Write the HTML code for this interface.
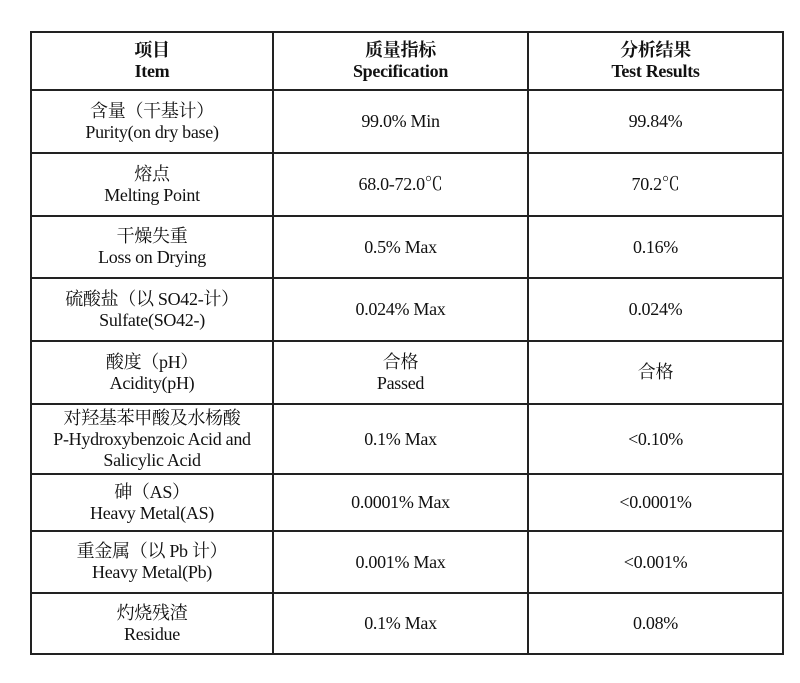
<!DOCTYPE html>
<html><head><meta charset="utf-8"><style>
body{margin:0;width:800px;height:683px;background:#fff;position:relative;overflow:hidden;font-family:"Liberation Serif","Noto Serif CJK SC",serif;color:#111;font-size:18px}
.h{position:absolute;height:2px;background:#222;left:30px;width:754px}
.v{position:absolute;width:2px;background:#222;top:31px;height:624px}
.c{position:absolute;display:flex;flex-direction:column;justify-content:center;align-items:center;text-align:center;line-height:21px;letter-spacing:-0.3px}
b{font-weight:bold}
</style></head><body>
<div class="h" style="top:31px"></div>
<div class="h" style="top:89px"></div>
<div class="h" style="top:152px"></div>
<div class="h" style="top:215px"></div>
<div class="h" style="top:277px"></div>
<div class="h" style="top:340px"></div>
<div class="h" style="top:403px"></div>
<div class="h" style="top:473px"></div>
<div class="h" style="top:530px"></div>
<div class="h" style="top:592px"></div>
<div class="h" style="top:653px"></div>
<div class="v" style="left:30px"></div>
<div class="v" style="left:272px"></div>
<div class="v" style="left:527px"></div>
<div class="v" style="left:782px"></div>

<div class="c" style="left:32px;width:240px;top:33px;height:56px"><b>项目</b><b>Item</b></div>
<div class="c" style="left:274px;width:253px;top:33px;height:56px"><b>质量指标</b><b>Specification</b></div>
<div class="c" style="left:529px;width:253px;top:33px;height:56px"><b>分析结果</b><b>Test Results</b></div>

<div class="c" style="left:32px;width:240px;top:91px;height:61px"><span>含量（干基计）</span><span>Purity(on dry base)</span></div>
<div class="c" style="left:274px;width:253px;top:91px;height:61px">99.0% Min</div>
<div class="c" style="left:529px;width:253px;top:91px;height:61px">99.84%</div>

<div class="c" style="left:32px;width:240px;top:154px;height:61px"><span>熔点</span><span>Melting Point</span></div>
<div class="c" style="left:274px;width:253px;top:154px;height:61px">68.0-72.0℃</div>
<div class="c" style="left:529px;width:253px;top:154px;height:61px">70.2℃</div>

<div class="c" style="left:32px;width:240px;top:217px;height:60px"><span>干燥失重</span><span>Loss on Drying</span></div>
<div class="c" style="left:274px;width:253px;top:217px;height:60px">0.5% Max</div>
<div class="c" style="left:529px;width:253px;top:217px;height:60px">0.16%</div>

<div class="c" style="left:32px;width:240px;top:279px;height:61px"><span>硫酸盐（以 SO42-计）</span><span>Sulfate(SO42-)</span></div>
<div class="c" style="left:274px;width:253px;top:279px;height:61px">0.024% Max</div>
<div class="c" style="left:529px;width:253px;top:279px;height:61px">0.024%</div>

<div class="c" style="left:32px;width:240px;top:342px;height:61px"><span>酸度（pH）</span><span>Acidity(pH)</span></div>
<div class="c" style="left:274px;width:253px;top:342px;height:61px"><span>合格</span><span>Passed</span></div>
<div class="c" style="left:529px;width:253px;top:342px;height:61px">合格</div>

<div class="c" style="left:32px;width:240px;top:405px;height:68px"><span>对羟基苯甲酸及水杨酸</span><span>P-Hydroxybenzoic Acid and</span><span>Salicylic Acid</span></div>
<div class="c" style="left:274px;width:253px;top:405px;height:68px">0.1% Max</div>
<div class="c" style="left:529px;width:253px;top:405px;height:68px">&lt;0.10%</div>

<div class="c" style="left:32px;width:240px;top:475px;height:55px"><span>砷（AS）</span><span>Heavy Metal(AS)</span></div>
<div class="c" style="left:274px;width:253px;top:475px;height:55px">0.0001% Max</div>
<div class="c" style="left:529px;width:253px;top:475px;height:55px">&lt;0.0001%</div>

<div class="c" style="left:32px;width:240px;top:532px;height:60px"><span>重金属（以 Pb 计）</span><span>Heavy Metal(Pb)</span></div>
<div class="c" style="left:274px;width:253px;top:532px;height:60px">0.001% Max</div>
<div class="c" style="left:529px;width:253px;top:532px;height:60px">&lt;0.001%</div>

<div class="c" style="left:32px;width:240px;top:594px;height:59px"><span>灼烧残渣</span><span>Residue</span></div>
<div class="c" style="left:274px;width:253px;top:594px;height:59px">0.1% Max</div>
<div class="c" style="left:529px;width:253px;top:594px;height:59px">0.08%</div>
</body></html>
